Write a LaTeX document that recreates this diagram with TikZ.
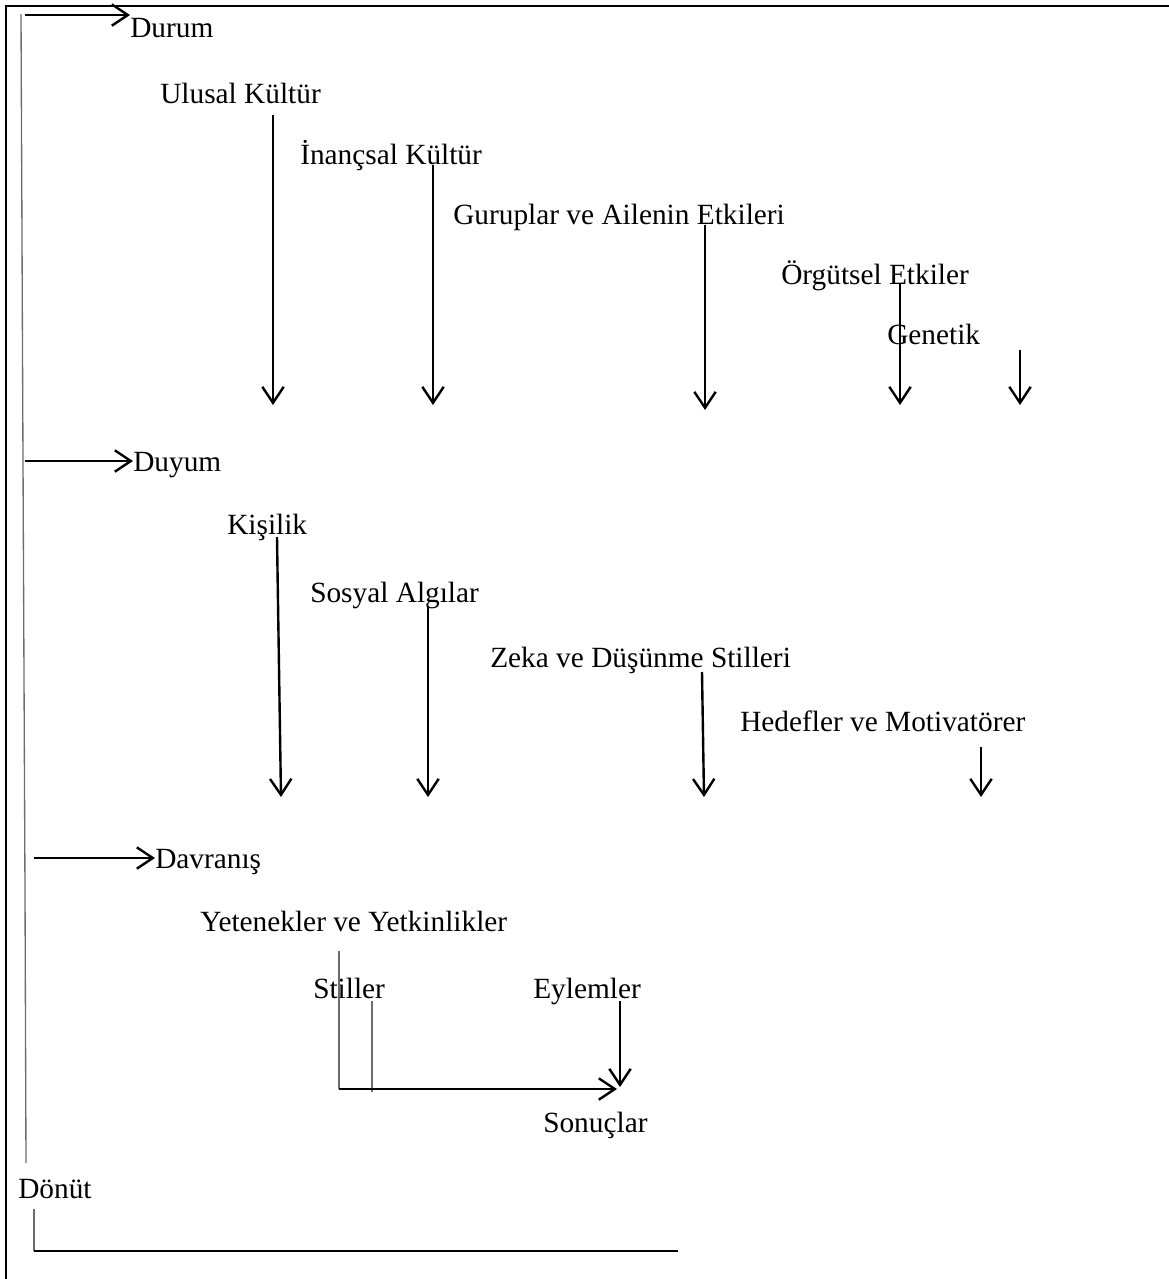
\documentclass[tikz,border=0pt]{standalone}
\usepackage{fontspec}
\setmainfont{Liberation Serif}
\usetikzlibrary{arrows.meta}
\begin{document}
\begin{tikzpicture}[x=0.75pt,y=-0.75pt,
  lbl/.style={anchor=base west,inner sep=0pt,font=\fontsize{22}{26}\selectfont},
  arr/.style={line width=1.8pt,-{Straight Barb[length=12pt,width=16pt,line width=1.8pt]}},
  thin/.style={draw=gray!85!black,line width=1pt},
  frame/.style={line width=2.2pt}]
\useasboundingbox (0,0) rectangle (1169,1279);
\clip (0,0) rectangle (1169,1279);
% frame
\draw[frame] (6,1300) -- (6,6) -- (1190,6);
% feedback gray line
\coordinate (fb1) at (21,14);
\coordinate (fb2) at (23,460);
\coordinate (fb3) at (25,890);
\coordinate (fb4) at (26,1163);
\draw[thin] (fb1) -- (fb2) -- (fb3) -- (fb4);
% labels
\node[lbl] (durum) at (130,37) {Durum};
\node[lbl] (ulusal) at (160,103) {Ulusal Kültür};
\node[lbl] (inanc) at (300,164) {İnançsal Kültür};
\node[lbl] (gurup) at (453,224) {Guruplar ve Ailenin Etkileri};
\node[lbl] (orgut) at (781,284) {Örgütsel Etkiler};
\node[lbl] (genetik) at (887,344) {Genetik};
\node[lbl] (duyum) at (133,471) {Duyum};
\node[lbl] (kisilik) at (227,534) {Kişilik};
\node[lbl] (sosyal) at (310,602) {Sosyal Algılar};
\node[lbl] (zeka) at (490,667) {Zeka ve Düşünme Stilleri};
\node[lbl] (hedef) at (740,731) {Hedefler ve Motivatörer};
\node[lbl] (davranis) at (155,868) {Davranış};
\node[lbl] (yetenek) at (200,931) {Yetenekler ve Yetkinlikler};
\node[lbl] (stiller) at (313,998) {Stiller};
\node[lbl] (eylem) at (533,998) {Eylemler};
\node[lbl] (sonuc) at (543,1132) {Sonuçlar};
\node[lbl] (donut) at (18,1198) {Dönüt};
% stage arrows
\coordinate (d0) at (25,15);
\draw[arr] (d0) -- (durum.north west |- d0);
\coordinate (u0) at (25,461);
\draw[arr] (u0) -- (duyum.west |- u0);
\coordinate (v0) at (34,858);
\draw[arr] (v0) -- (davranis.west |- v0);
% Durum factors
\coordinate (a1s) at (273,115); \coordinate (a1e) at (273,405);
\coordinate (a2s) at (433,165); \coordinate (a2e) at (433,405);
\coordinate (a3s) at (705,225); \coordinate (a3e) at (705,410);
\coordinate (a4s) at (900,283); \coordinate (a4e) at (900,405);
\coordinate (a5s) at (1020,350); \coordinate (a5e) at (1020,405);
\draw[arr] (a1s) -- (a1e);
\draw[arr] (a2s) -- (a2e);
\draw[arr] (a3s) -- (a3e);
\draw[arr] (a4s) -- (a4e);
\draw[arr] (a5s) -- (a5e);
% Duyum factors
\coordinate (b1s) at (277,537); \coordinate (b1e) at (281,797);
\coordinate (b2s) at (428,607); \coordinate (b2e) at (428,797);
\coordinate (b3s) at (702,672); \coordinate (b3e) at (704,797);
\coordinate (b4s) at (981,747); \coordinate (b4e) at (981,797);
\draw[arr] (b1s) -- (b1e);
\draw[arr] (b2s) -- (b2e);
\draw[arr] (b3s) -- (b3e);
\draw[arr] (b4s) -- (b4e);
% Davranis part
\coordinate (y1) at (339,951); \coordinate (y2) at (339,1089);
\coordinate (s1) at (372,1001); \coordinate (s2) at (372,1092);
\coordinate (r1) at (617,1089);
\coordinate (e1) at (620,1001); \coordinate (e2) at (620,1087);
\draw[thin] (y1) -- (y2);
\draw[thin] (s1) -- (s2);
\draw[arr] (y2) -- (r1);
\draw[arr] (e1) -- (e2);
% feedback bracket
\coordinate (k1) at (34,1209); \coordinate (k2) at (34,1251); \coordinate (k3) at (678,1251);
\draw[thin] (k1) -- (k2);
\draw[line width=1.2pt] (k2) -- (k3);
\end{tikzpicture}
\end{document}
